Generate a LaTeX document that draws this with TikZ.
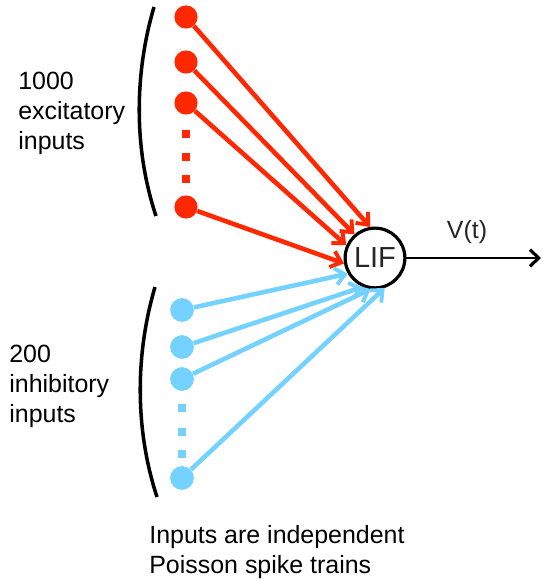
\documentclass[tikz,border=0pt]{standalone}
\usepackage{fontspec}
\setmainfont{Liberation Sans}
\usetikzlibrary{arrows.meta}
\definecolor{exccol}{RGB}{255,40,0}
\definecolor{inhcol}{RGB}{115,210,255}
\begin{document}
\begin{tikzpicture}[x=0.02cm, y=-0.02cm,
    exc/.style={circle, fill=exccol, inner sep=0pt, minimum size=13.2pt},
    inh/.style={circle, fill=inhcol, inner sep=0pt, minimum size=13.5pt},
    gapdot/.style={rectangle, inner sep=0pt, minimum size=5pt},
    excarrow/.style={-{Straight Barb[length=5.5pt, width=9.5pt, line width=2.2pt]}, exccol, line width=2.6pt},
    inharrow/.style={-{Straight Barb[length=5.5pt, width=9.5pt, line width=2.2pt]}, inhcol, line width=2.6pt},
    label/.style={anchor=north west, inner sep=0pt, align=left, font=\fontsize{14.2}{17}\selectfont}]
    \useasboundingbox (0,0) rectangle (543,581);

    % Draw the neuron
    \node[circle, draw, line width=1.8pt, minimum size=34pt, inner sep=0pt,
          font=\fontsize{16.5}{17}\selectfont, text=black!85] (lif) at (375,258) {LIF};

    % Draw the excitatory inputs
    \node[exc] (e1) at (186,17) {};
    \node[exc] (e2) at (186,62) {};
    \node[exc] (e3) at (186,103) {};
    \node[exc] (e4) at (186,207) {};
    \foreach \y [count=\i] in {134,157,179}
        \node[gapdot, fill=exccol] (eg\i) at (186,\y) {};

    % Draw the inhibitory inputs
    \node[inh] (i1) at (182,310) {};
    \node[inh] (i2) at (182,347) {};
    \node[inh] (i3) at (182,379) {};
    \node[inh] (i4) at (182,478) {};
    \foreach \y [count=\i] in {408,432,454}
        \node[gapdot, fill=inhcol] (ig\i) at (182,\y) {};

    % Draw the connections
    \draw[excarrow] (e1) -- (lif.99);
    \draw[excarrow] (e2) -- (lif.131);
    \draw[excarrow] (e3) -- (lif.156);
    \draw[excarrow] (e4) -- (lif.190);
    \draw[inharrow] (i1) -- (lif.210);
    \draw[inharrow] (i2) -- (lif.247);
    \draw[inharrow] (i3) -- (lif.262);
    \draw[inharrow] (i4) -- (lif.288);

    % Draw the output
    \coordinate (out) at (541,258);
    \draw[-{Straight Barb[length=5pt, width=9.5pt, line width=1.8pt]}, line width=1.3pt] (lif) -- (out)
        node[pos=0.45, above=4pt, font=\fontsize{14.2}{17}\selectfont, text=black!85] (vt) {V(t)};

    % Draw the brackets
    \draw[line width=2pt] (154,7) .. controls (134,75) and (134,150) .. (156,216);
    \draw[line width=2pt] (155,287) .. controls (135,355) and (135,430) .. (157,497);

    % Labels
    \node[label] (exclabel) at (18,72) {1000\\excitatory\\inputs};
    \node[label] (inhlabel) at (9,345) {200\\inhibitory\\inputs};
    \node[label] (notelabel) at (149,525) {Inputs are independent\\Poisson spike trains};
\end{tikzpicture}
\end{document}
